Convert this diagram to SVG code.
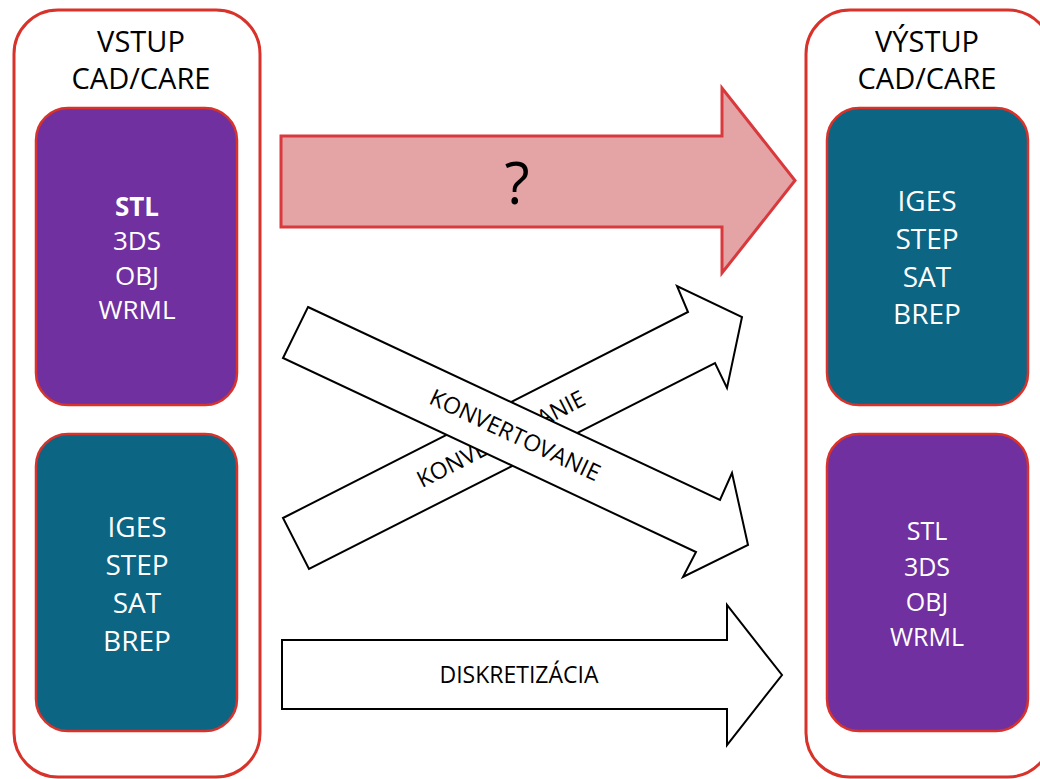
<svg xmlns="http://www.w3.org/2000/svg" width="1040" height="779" viewBox="0 0 1040 779">
  <style>
    .frame { fill: #ffffff; stroke: #d8322a; stroke-width: 3; }
    .box { stroke: #d8322a; stroke-width: 2.5; }
    .purple { fill: #7030a0; }
    .teal { fill: #0b6583; }
    .hdr { font-family: "Open Sans", "Liberation Sans", sans-serif; font-size: 29px; fill: #000000; text-anchor: middle; }
    .fmt { font-family: "Open Sans", "Liberation Sans", sans-serif; fill: #ffffff; text-anchor: middle; }
    .lbl { font-family: "Open Sans", "Liberation Sans", sans-serif; font-size: 23px; fill: #000000; text-anchor: middle; }
    .white-arrow { fill: #ffffff; stroke: #000000; stroke-width: 2; stroke-linejoin: miter; }
    .red-arrow { fill: #e4a4a5; stroke: #d9393c; stroke-width: 3; stroke-linejoin: miter; }
  </style>

  <!-- input column -->
  <g id="input">
    <rect class="frame" x="14" y="10" width="246" height="767" rx="44" ry="44"/>
    <text class="hdr" x="141" y="52">VSTUP</text>
    <text class="hdr" x="141" y="89">CAD/CARE</text>
  </g>
  <g id="input-mesh">
    <rect class="box purple" x="36" y="108" width="201" height="297" rx="32" ry="32"/>
    <text class="fmt" x="137" y="216" font-size="26" font-weight="bold">STL</text>
    <text class="fmt" x="137" y="250" font-size="26">3DS</text>
    <text class="fmt" x="137" y="285" font-size="26">OBJ</text>
    <text class="fmt" x="137" y="319" font-size="26">WRML</text>
  </g>
  <g id="input-solid">
    <rect class="box teal" x="36" y="434" width="201" height="297" rx="32" ry="32"/>
    <text class="fmt" x="137" y="537" font-size="28">IGES</text>
    <text class="fmt" x="137" y="575" font-size="28">STEP</text>
    <text class="fmt" x="137" y="613" font-size="28">SAT</text>
    <text class="fmt" x="137" y="651" font-size="28">BREP</text>
  </g>

  <!-- output column -->
  <g id="output">
    <rect class="frame" x="806" y="10" width="246" height="767" rx="44" ry="44"/>
    <text class="hdr" x="927" y="52">VÝSTUP</text>
    <text class="hdr" x="927" y="89">CAD/CARE</text>
  </g>
  <g id="output-solid">
    <rect class="box teal" x="827" y="108" width="201" height="297" rx="32" ry="32"/>
    <text class="fmt" x="927" y="211" font-size="28">IGES</text>
    <text class="fmt" x="927" y="249" font-size="28">STEP</text>
    <text class="fmt" x="927" y="287" font-size="28">SAT</text>
    <text class="fmt" x="927" y="324" font-size="28">BREP</text>
  </g>
  <g id="output-mesh">
    <rect class="box purple" x="827" y="434" width="201" height="297" rx="32" ry="32"/>
    <text class="fmt" x="927" y="540" font-size="25">STL</text>
    <text class="fmt" x="927" y="576" font-size="25">3DS</text>
    <text class="fmt" x="927" y="611" font-size="25">OBJ</text>
    <text class="fmt" x="927" y="646" font-size="25">WRML</text>
  </g>

  <!-- block arrows between the columns -->
  <g id="connectors">
    <g id="unknown">
      <polygon class="red-arrow" points="281,136 722,136 722,88 795,180.5 722,273 722,227 281,227"/>
      <text x="517" y="204" font-family="Open Sans, Liberation Sans, sans-serif" font-size="58" text-anchor="middle" fill="#000000">?</text>
    </g>
    <g id="convert-up">
      <polygon class="white-arrow" points="283,518 688,312 677,286 742,317 727,388 715,363 309,569"/>
      <text class="lbl" transform="translate(501 439) rotate(-27)" y="8">KONVERTOVANIE</text>
    </g>
    <g id="convert-down">
      <polygon class="white-arrow" points="308,307 720,500 732,473 748,545 683,577 696,552 283,358"/>
      <text class="lbl" transform="translate(515 435) rotate(25.1)" y="8">KONVERTOVANIE</text>
    </g>
    <g id="discretize">
      <polygon class="white-arrow" points="282,640 727,640 727,605 782,675 727,745 727,709 282,709"/>
      <text class="lbl" x="519" y="683">DISKRETIZÁCIA</text>
    </g>
  </g>
</svg>
